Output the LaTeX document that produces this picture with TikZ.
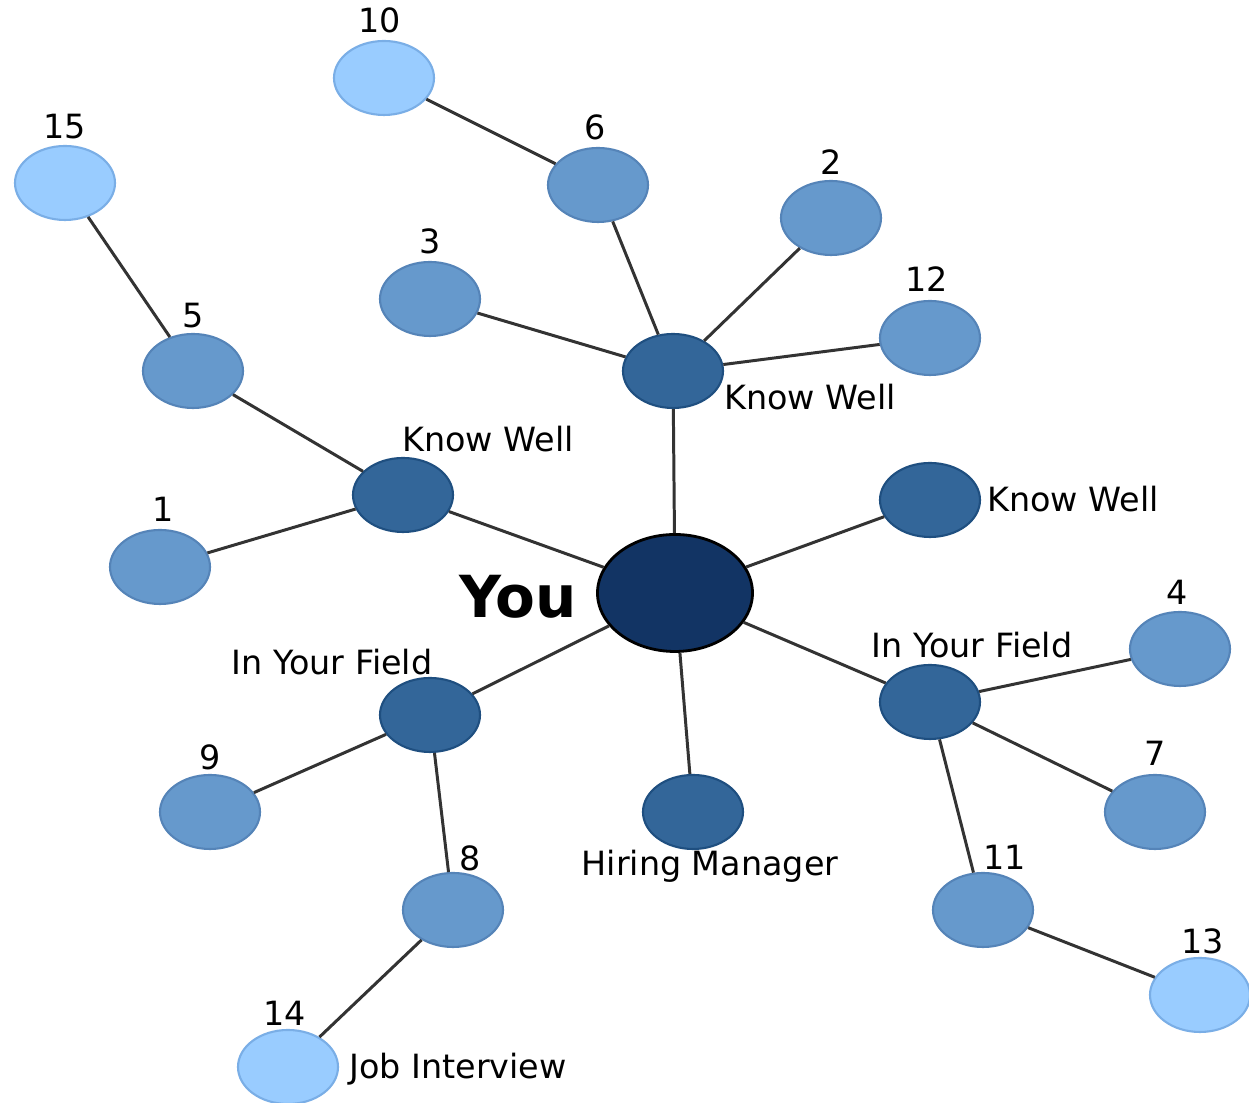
\documentclass[tikz,border=0pt]{standalone}
\usepackage{fontspec}
\setmainfont{DejaVu Sans}
\usetikzlibrary{shapes.geometric}

\definecolor{youblue}{HTML}{123464}
\definecolor{darkblue}{HTML}{336699}
\definecolor{darkedge}{HTML}{1F4F80}
\definecolor{midblue}{HTML}{6699CC}
\definecolor{midedge}{HTML}{5584B8}
\definecolor{lightblue}{HTML}{99CCFF}
\definecolor{lightedge}{HTML}{7AAEE6}
\definecolor{linkgray}{HTML}{333333}

\begin{document}
\begin{tikzpicture}[
  person/.style={ellipse, inner sep=0pt, minimum width=1cm, minimum height=0.74cm, line width=0.6pt},
  near/.style={person, fill=darkblue, draw=darkedge},
  mid/.style={person, fill=midblue, draw=midedge},
  far/.style={person, fill=lightblue, draw=lightedge},
  me/.style={ellipse, inner sep=0pt, minimum width=1.55cm, minimum height=1.17cm, fill=youblue, draw=black, line width=0.8pt},
  tag/.style={font=\fontsize{9.5}{11}\selectfont, inner sep=0pt},
  link/.style={draw=linkgray, line width=0.85pt}
]

\useasboundingbox (0,0) rectangle (12.49,11.03);

% centre
\node[me] (you) at (6.75,5.10) {};
\node[font=\bfseries\fontsize{16.5}{18}\selectfont, inner sep=0pt] (tyou) at (5.18,5.06) {You};

% first ring
\node[near] (kwT) at (6.73,7.32) {};
\node[near] (kwL) at (4.03,6.08) {};
\node[near] (kwR) at (9.30,6.03) {};
\node[near] (fL) at (4.30,3.88) {};
\node[near] (fR) at (9.30,4.01) {};
\node[near] (hm) at (6.93,2.91) {};

\node[tag] (tkwT) at (8.10,7.06) {Know Well};
\node[tag] (tkwL) at (4.88,6.64) {Know Well};
\node[tag] (tkwR) at (10.73,6.04) {Know Well};
\node[tag] (tfL) at (3.32,4.41) {In Your Field};
\node[tag] (tfR) at (9.72,4.58) {In Your Field};
\node[tag] (thm) at (7.10,2.37) {Hiring Manager};

% second ring
\node[mid] (n1) at (1.60,5.36) {};
\node[mid] (n2) at (8.31,8.85) {};
\node[mid] (n3) at (4.30,8.04) {};
\node[mid] (n4) at (11.80,4.54) {};
\node[mid] (n5) at (1.93,7.32) {};
\node[mid] (n6) at (5.98,9.18) {};
\node[mid] (n7) at (11.55,2.91) {};
\node[mid] (n8) at (4.53,1.93) {};
\node[mid] (n9) at (2.10,2.91) {};
\node[mid] (n11) at (9.83,1.93) {};
\node[mid] (n12) at (9.30,7.65) {};

% third ring
\node[far] (n10) at (3.84,10.25) {};
\node[far] (n13) at (12.00,1.08) {};
\node[far] (n14) at (2.88,0.36) {};
\node[far] (n15) at (0.65,9.20) {};

\node[tag] (t1) at (1.63,5.94) {1};
\node[tag] (t2) at (8.31,9.41) {2};
\node[tag] (t3) at (4.30,8.62) {3};
\node[tag] (t4) at (11.77,5.11) {4};
\node[tag] (t5) at (1.93,7.87) {5};
\node[tag] (t6) at (5.95,9.76) {6};
\node[tag] (t7) at (11.55,3.50) {7};
\node[tag] (t8) at (4.70,2.45) {8};
\node[tag] (t9) at (2.10,3.46) {9};
\node[tag] (t10) at (3.80,10.83) {10};
\node[tag] (t11) at (10.05,2.46) {11};
\node[tag] (t12) at (9.27,8.24) {12};
\node[tag] (t13) at (12.03,1.62) {13};
\node[tag] (t14) at (2.85,0.90) {14};
\node[tag] (t15) at (0.65,9.76) {15};
\node[tag] (tji) at (4.58,0.34) {Job Interview};

% links
\draw[link] (you) -- (kwT);
\draw[link] (you) -- (kwL);
\draw[link] (you) -- (kwR);
\draw[link] (you) -- (fL);
\draw[link] (you) -- (fR);
\draw[link] (you) -- (hm);

\draw[link] (kwT) -- (n3);
\draw[link] (kwT) -- (n6);
\draw[link] (kwT) -- (n2);
\draw[link] (kwT) -- (n12);
\draw[link] (n6) -- (n10);

\draw[link] (kwL) -- (n5);
\draw[link] (kwL) -- (n1);
\draw[link] (n5) -- (n15);

\draw[link] (fL) -- (n9);
\draw[link] (fL) -- (n8);
\draw[link] (n8) -- (n14);

\draw[link] (fR) -- (n4);
\draw[link] (fR) -- (n7);
\draw[link] (fR) -- (n11);
\draw[link] (n11) -- (n13);

\end{tikzpicture}
\end{document}
